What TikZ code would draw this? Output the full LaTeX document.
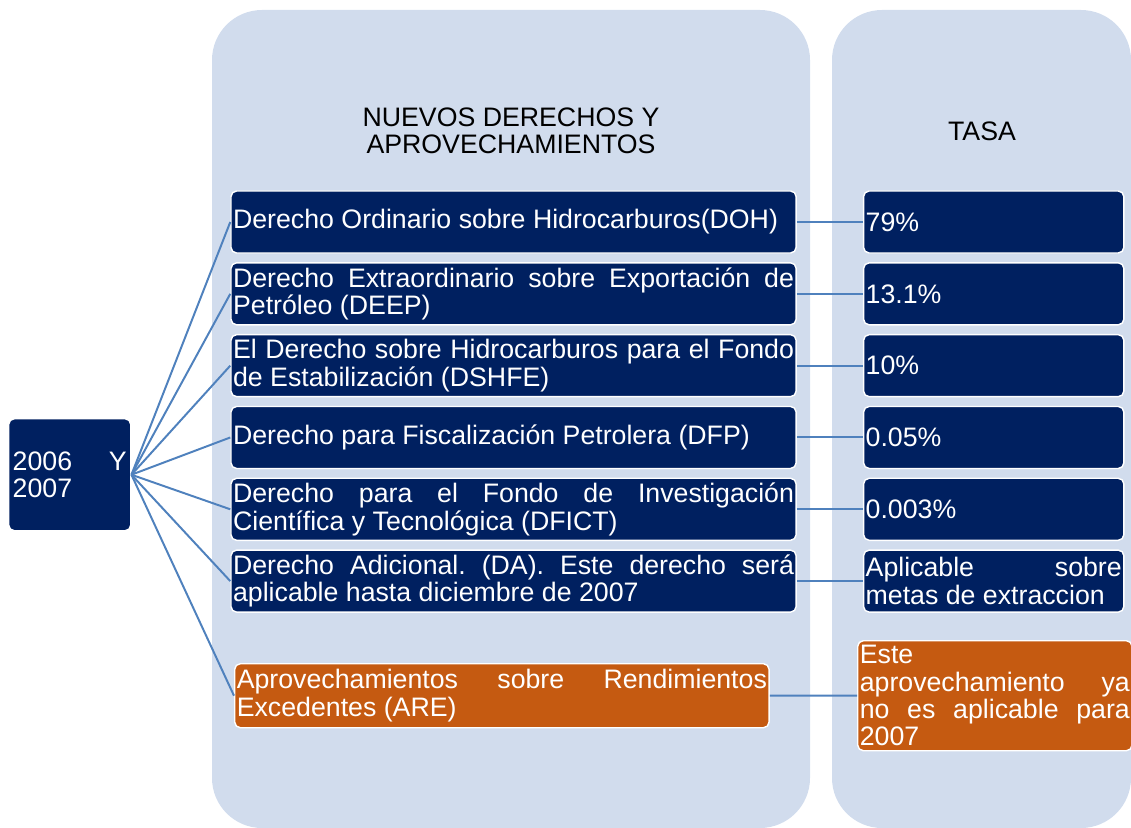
\documentclass[tikz,border=0pt]{standalone}
\usepackage{fontspec}
\setmainfont{Liberation Sans}
\usetikzlibrary{matrix, positioning}
\definecolor{navy}{RGB}{0,32,96}
\definecolor{rust}{RGB}{197,90,17}
\definecolor{panel}{RGB}{209,220,237}
\definecolor{link}{RGB}{79,129,189}
\hyphenpenalty=10000
\exhyphenpenalty=10000
\tolerance=10000
\frenchspacing
\tikzset{
  cell/.style = {draw=white, line width=1pt, rounded corners=4pt, text=white, align=justify,
    inner xsep=1.5pt, inner ysep=1pt, font=\fontsize{19}{19.5}\selectfont},
  derbox/.style = {cell, fill=navy, text width=14.02cm, minimum height=1.55cm},
  tasabox/.style = {cell, fill=navy, text width=6.4cm, minimum height=1.55cm},
  rootbox/.style = {cell, fill=navy, align=left, inner xsep=0.1cm, text width=2.85cm, minimum height=2.8cm},
  arebox/.style = {cell, fill=rust, text width=13.25cm, minimum height=1.6cm},
  tarebox/.style = {cell, fill=rust, text width=6.75cm, minimum height=2.75cm},
  head/.style = {align=center, font=\fontsize{19}{19.5}\selectfont},
  link/.style = {draw=link, line width=1.4pt}
}
\begin{document}
\begin{tikzpicture}[x=0.025cm, y=-0.025cm]
\useasboundingbox (0,0) rectangle (1131,828);
\fill[panel, rounded corners=1.25cm] (212,10) rectangle (810,828);
\fill[panel, rounded corners=1.25cm] (832,10) rectangle (1131,828);
\node[head] (hder) at (511,131) {NUEVOS DERECHOS Y\\APROVECHAMIENTOS};
\node[head] (htasa) at (982,131) {TASA};
\matrix (m) [column sep=1.65cm, row sep=0.21cm, inner sep=0pt, anchor=north west] at (230,190) {
\node[derbox](d1){Derecho Ordinario sobre Hidrocarburos(DOH)}; & \node[tasabox](t1){79\%}; \\
\node[derbox](d2){Derecho Extraordinario sobre Exportación de Petróleo (DEEP)}; & \node[tasabox](t2){13.1\%}; \\
\node[derbox](d3){El Derecho sobre Hidrocarburos para el Fondo de Estabilización (DSHFE)}; & \node[tasabox](t3){10\%}; \\
\node[derbox](d4){Derecho para Fiscalización Petrolera (DFP)}; & \node[tasabox](t4){0.05\%}; \\
\node[derbox](d5){Derecho para el Fondo de Investigación Científica y Tecnológica (DFICT)}; & \node[tasabox](t5){0.003\%}; \\
\node[derbox](d6){Derecho Adicional. (DA). Este derecho será aplicable hasta diciembre de 2007}; & \node[tasabox](t6){Aplicable sobre metas de extraccion}; \\
};
\node[rootbox, anchor=north west] (root) at (8,418) {2006\hfill Y\\2007};
\node[arebox, anchor=north west] (are) at (234,663) {Aprovechamientos sobre Rendimientos Excedentes (ARE)};
\node[tarebox, anchor=north west] (tare) at (857,640) {Este\linebreak aprovechamiento ya no es aplicable para 2007};
\foreach \i in {1,...,6} {
  \draw[link] (root.east) -- (d\i.west);
  \draw[link] (d\i.east) -- (t\i.west);
}
\draw[link] (root.east) -- (are.west);
\draw[link] (are.east) -- (tare.west);
\end{tikzpicture}
\end{document}
